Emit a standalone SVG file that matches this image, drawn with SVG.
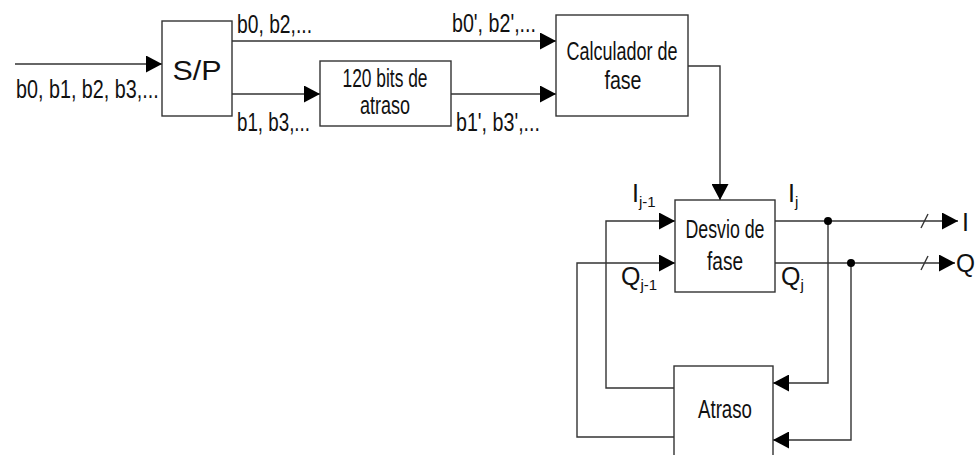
<svg xmlns="http://www.w3.org/2000/svg" width="980" height="455" viewBox="0 0 980 455">
<defs>
<style>
.box{fill:#fff;stroke:#333;stroke-width:1.4}
.ln{fill:none;stroke:#333;stroke-width:1.4}
text{font-family:"Liberation Sans",Arial,sans-serif;font-size:25px;fill:#111}
.c{text-anchor:middle}
.sub{font-size:15px}
</style>
<marker id="ah" markerWidth="16" markerHeight="17" viewBox="0 0 16 17" refX="16" refY="8.5" orient="auto" markerUnits="userSpaceOnUse">
<path d="M0,0 L16,8.5 L0,17 Z" fill="#000"/>
</marker>
</defs>
<g id="connectors">
<path class="ln" d="M15,64 H162" marker-end="url(#ah)"/>
<path class="ln" d="M232,41 H556" marker-end="url(#ah)"/>
<path class="ln" d="M232,94 H320" marker-end="url(#ah)"/>
<path class="ln" d="M451,94 H556" marker-end="url(#ah)"/>
<path class="ln" d="M688,66 H720 V200" marker-end="url(#ah)"/>
<path class="ln" d="M674,388 H606 V221 H675" marker-end="url(#ah)"/>
<path class="ln" d="M674,437 H577 V263 H675" marker-end="url(#ah)"/>
<path class="ln" d="M775,221 H958" marker-end="url(#ah)"/>
<path class="ln" d="M775,263 H955" marker-end="url(#ah)"/>
<path class="ln" d="M828,221 V383 H773" marker-end="url(#ah)"/>
<path class="ln" d="M851,263 V440 H773" marker-end="url(#ah)"/>
<path class="ln" d="M921,228 L928,214"/>
<path class="ln" d="M921,270 L928,256"/>
<circle cx="828" cy="221" r="4" fill="#000"/>
<circle cx="851" cy="263" r="4" fill="#000"/>
<text transform="translate(16,98) scale(0.79,1)">b0, b1, b2, b3,...</text>
<text x="237" y="33" textLength="75" lengthAdjust="spacingAndGlyphs">b0, b2,...</text>
<text x="237" y="131" textLength="73" lengthAdjust="spacingAndGlyphs">b1, b3,...</text>
<text x="452" y="32" textLength="84" lengthAdjust="spacingAndGlyphs">b0', b2',...</text>
<text x="456" y="131" textLength="84" lengthAdjust="spacingAndGlyphs">b1', b3',...</text>
<text x="632" y="202">I<tspan class="sub" dy="5">j-1</tspan></text>
<text x="788" y="202">I<tspan class="sub" dy="5">j</tspan></text>
<text x="621" y="285">Q<tspan class="sub" dy="5">j-1</tspan></text>
<text x="781" y="285">Q<tspan class="sub" dy="5">j</tspan></text>
<text x="962" y="231">I</text>
<text x="956" y="272" textLength="19" lengthAdjust="spacingAndGlyphs">Q</text>
</g>
<g id="sp">
<rect class="box" x="162" y="21" width="70" height="95"/>
<text class="c" x="197" y="80" style="font-size:28px" textLength="49" lengthAdjust="spacingAndGlyphs">S/P</text>
</g>
<g id="delay120">
<rect class="box" x="320" y="61" width="131" height="65"/>
<text class="c" x="385" y="87" textLength="85" lengthAdjust="spacingAndGlyphs">120 bits de</text>
<text class="c" x="385" y="114" textLength="50" lengthAdjust="spacingAndGlyphs">atraso</text>
</g>
<g id="calc">
<rect class="box" x="556" y="15" width="132" height="101"/>
<text class="c" x="622" y="60" textLength="111" lengthAdjust="spacingAndGlyphs">Calculador de</text>
<text class="c" x="623" y="89" textLength="37" lengthAdjust="spacingAndGlyphs">fase</text>
</g>
<g id="desvio">
<rect class="box" x="675" y="200" width="100" height="92"/>
<text class="c" x="725" y="238" textLength="79" lengthAdjust="spacingAndGlyphs">Desvio de</text>
<text class="c" x="725" y="270" textLength="36" lengthAdjust="spacingAndGlyphs">fase</text>
</g>
<g id="atraso">
<rect class="box" x="674" y="366" width="99" height="100"/>
<text class="c" x="725" y="418" textLength="54" lengthAdjust="spacingAndGlyphs">Atraso</text>
</g>
</svg>
